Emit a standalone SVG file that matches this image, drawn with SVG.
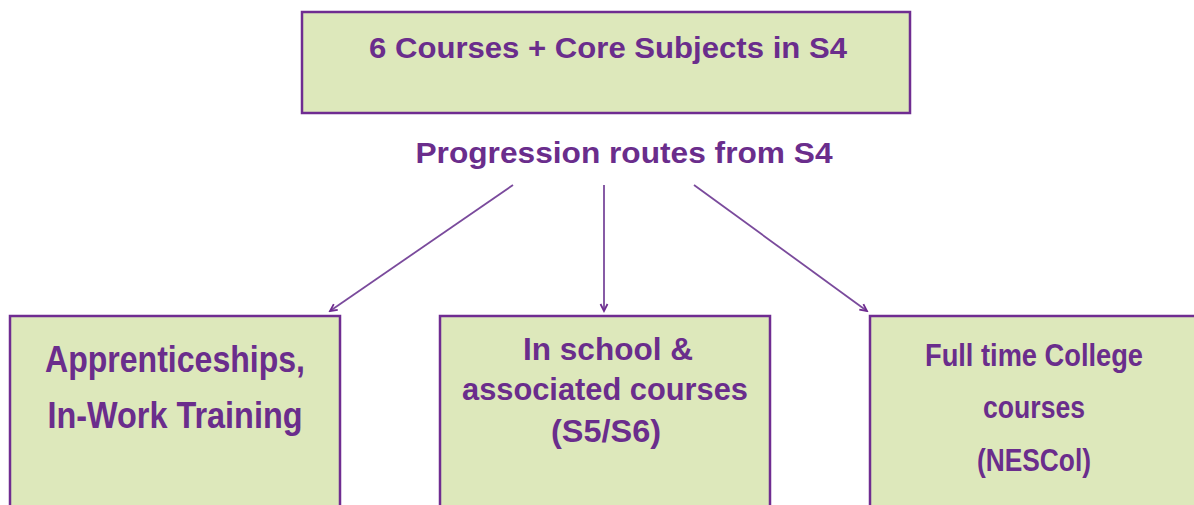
<svg xmlns="http://www.w3.org/2000/svg" width="1194" height="505" viewBox="0 0 1194 505">
  <style>
    .box { fill: #dde8bb; stroke: #6f2c91; stroke-width: 2.5; }
    .lbl { font-family: "Liberation Sans", Arial, sans-serif; font-weight: bold; fill: #6a2d8c; text-anchor: middle; }
    .link { stroke: #7a4a9c; stroke-width: 1.8; fill: none; marker-end: url(#arrow); }
  </style>
  <defs>
    <marker id="arrow" markerWidth="10" markerHeight="10" refX="8" refY="5" orient="auto" markerUnits="userSpaceOnUse">
      <path d="M1,1.5 L8,5 L1,8.5" fill="none" stroke="#6f2c91" stroke-width="1.8"/>
    </marker>
  </defs>
  <rect width="1194" height="505" fill="#ffffff"/>

  <g id="node-s4">
    <rect class="box" x="302" y="12" width="608" height="101"/>
    <text class="lbl" x="608" y="58" font-size="29" textLength="478" lengthAdjust="spacingAndGlyphs">6 Courses + Core Subjects in S4</text>
  </g>

  <g id="caption">
    <text class="lbl" x="624" y="163" font-size="29" textLength="417" lengthAdjust="spacingAndGlyphs">Progression routes from S4</text>
  </g>

  <g id="connectors">
    <line class="link" x1="513" y1="185" x2="330" y2="311"/>
    <line class="link" x1="604" y1="185" x2="604" y2="311"/>
    <line class="link" x1="694" y1="185" x2="867" y2="311"/>
  </g>

  <g id="node-apprenticeships">
    <rect class="box" x="10" y="316" width="330" height="200"/>
    <text class="lbl" x="175" y="372" font-size="37" textLength="260" lengthAdjust="spacingAndGlyphs">Apprenticeships,</text>
    <text class="lbl" x="175" y="428" font-size="37" textLength="255" lengthAdjust="spacingAndGlyphs">In-Work Training</text>
  </g>

  <g id="node-school">
    <rect class="box" x="440" y="316" width="330" height="200"/>
    <text class="lbl" x="608" y="360" font-size="31" textLength="170" lengthAdjust="spacingAndGlyphs">In school &amp;</text>
    <text class="lbl" x="605" y="400" font-size="31" textLength="286" lengthAdjust="spacingAndGlyphs">associated courses</text>
    <text class="lbl" x="606" y="442" font-size="31" textLength="110" lengthAdjust="spacingAndGlyphs">(S5/S6)</text>
  </g>

  <g id="node-college">
    <rect class="box" x="870" y="316" width="340" height="200"/>
    <text class="lbl" x="1034" y="366" font-size="32" textLength="218" lengthAdjust="spacingAndGlyphs">Full time College</text>
    <text class="lbl" x="1034" y="418" font-size="32" textLength="102" lengthAdjust="spacingAndGlyphs">courses</text>
    <text class="lbl" x="1034" y="471" font-size="32" textLength="114" lengthAdjust="spacingAndGlyphs">(NESCol)</text>
  </g>
</svg>
